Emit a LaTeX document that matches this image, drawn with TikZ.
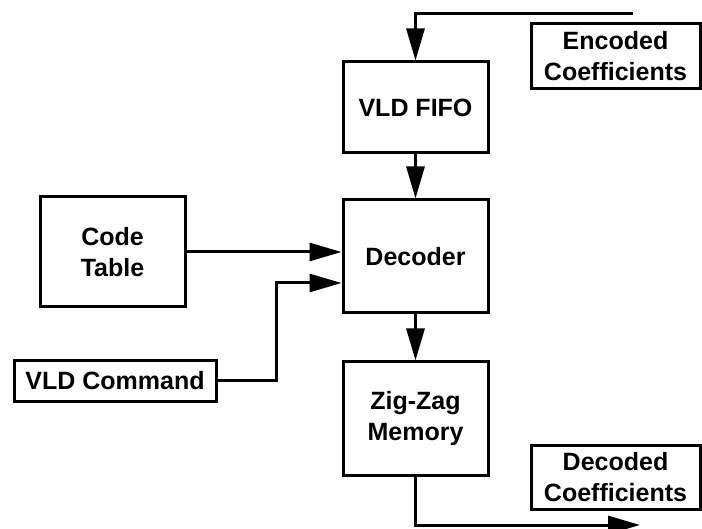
\documentclass[tikz,border=0pt]{standalone}
\usepackage{fontspec}
\setmainfont{Liberation Sans}
\usepackage{xcolor}
\usepackage{tikz}
\usetikzlibrary{arrows.meta,positioning,calc}

\begin{document}
\begin{tikzpicture}[x=1pt,y=-1pt,
  blk/.style={draw, line width=3pt, align=center, inner sep=0pt,
    font=\fontsize{25}{31}\selectfont\bfseries},
  arr/.style={line width=3pt, -{Triangle[length=32pt,width=18pt]}}]
\useasboundingbox (0,0) rectangle (702,529);

% Main column
\node[blk, minimum width=145pt, minimum height=91pt] (fifo) at (415.5,107.5) {VLD FIFO};
\node[blk, minimum width=145pt, minimum height=113pt] (decoder) at (415.5,256.5) {Decoder};
\node[blk, minimum width=145pt, minimum height=113pt] (zigzag) at (415.5,418.5) {Zig-Zag\\Memory};

% Inputs on the left
\node[blk, minimum width=145pt, minimum height=110pt] (codetable) at (112.5,252) {Code\\Table};
\node[blk, minimum width=202pt, minimum height=41pt] (vldcmd) at (115,381) {VLD Command};

% Labels on the right
\node[blk, minimum width=169pt, minimum height=65pt] (encoded) at (615.5,56.5) {Encoded\\Coefficients};
\node[blk, minimum width=169pt, minimum height=64pt] (decoded) at (615.5,477) {Decoded\\Coefficients};

% Connectors
\coordinate (encin) at (633,14);
\coordinate (decout) at (640,525);
\coordinate (cmdin) at ([yshift=-26.5pt]decoder.west);
\draw[arr] (encin) -| (fifo.north);
\draw[arr] (fifo.south) -- (decoder.north);
\draw[arr] (codetable.east) -- (codetable.east -| decoder.west);
\draw[arr] (vldcmd.east) -- ++(59,0) |- (cmdin);
\draw[arr] (decoder.south) -- (zigzag.north);
\draw[arr] (zigzag.south) |- (decout);
\end{tikzpicture}
\end{document}
